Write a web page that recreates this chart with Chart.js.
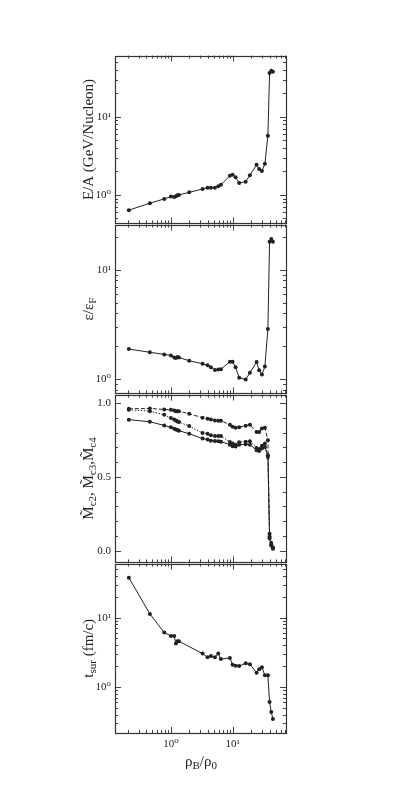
<!DOCTYPE html>
<html>
<head>
<meta charset="utf-8">
<title>E/A, e/eF, M~, t_sur vs rho_B/rho_0</title>
<script src="https://cdn.jsdelivr.net/npm/chart.js@4.4.1/dist/chart.umd.min.js"></script>
<style>
  html, body { margin: 0; padding: 0; background: #fff; }
  #wrap { position: relative; width: 415px; height: 789px; overflow: hidden; }
  .panel { position: absolute; left: 0; width: 415px; }
  canvas { display: block; }
</style>
</head>
<body>
<div id="wrap">
  <div class="panel" style="top:45px"><canvas id="c1" width="415" height="189"></canvas></div>
  <div class="panel" style="top:214px"><canvas id="c2" width="415" height="190"></canvas></div>
  <div class="panel" style="top:384px"><canvas id="c3" width="415" height="189"></canvas></div>
  <div class="panel" style="top:553px"><canvas id="c4" width="415" height="236"></canvas></div>
</div>
<script>
'use strict';

/* ----------------------------------------------------------
   DATA
   ---------------------------------------------------------- */

// rho_B / rho_0, shared by every panel
var density = [0.208, 0.456, 0.78, 1.0, 1.13, 1.205, 1.28, 1.35, 1.98, 3.26, 3.93, 4.45, 5.17, 5.86, 6.47,
  9.05, 10.0, 11.2, 12.8, 16.3, 19.1, 24.5, 27.0, 29.9, 33.4, 37.4, 39.8, 42.4, 45.1];

// E/A (GeV/Nucleon)
var energyPerNucleon = [0.638, 0.784, 0.889, 0.952, 0.943, 0.962, 0.99, 1.0, 1.08, 1.19, 1.24, 1.24, 1.24, 1.29, 1.35,
  1.76, 1.81, 1.69, 1.42, 1.48, 1.79, 2.43, 2.14, 2.02, 2.5, 5.74, 36.3, 39.0, 37.8];

// e / e_F
var energyRatio = [1.89, 1.77, 1.69, 1.65, 1.585, 1.57, 1.6, 1.585, 1.48, 1.39, 1.35, 1.29, 1.22, 1.23, 1.24,
  1.45, 1.45, 1.29, 1.035, 1.0, 1.15, 1.44, 1.21, 1.11, 1.31, 2.89, 18.0, 19.1, 18.0];

// M~c4 (dashed), M~c3 (dotted), M~c2 (solid)
var mc4 = [0.962, 0.964, 0.957, 0.955, 0.951, 0.946, 0.946, 0.946, 0.928, 0.901, 0.894, 0.89, 0.883, 0.881, 0.881,
  0.854, 0.84, 0.834, 0.836, 0.847, 0.854, 0.804, 0.804, 0.829, 0.834, 0.748, 0.115, 0.052, 0.018];
var mc3 = [0.955, 0.946, 0.921, 0.899, 0.89, 0.883, 0.876, 0.872, 0.845, 0.798, 0.793, 0.782, 0.778, 0.778, 0.778,
  0.737, 0.726, 0.719, 0.735, 0.739, 0.742, 0.697, 0.69, 0.712, 0.726, 0.647, 0.097, 0.04, 0.022];
var mc2 = [0.888, 0.874, 0.849, 0.836, 0.827, 0.822, 0.818, 0.813, 0.793, 0.76, 0.753, 0.746, 0.744, 0.742, 0.739,
  0.719, 0.708, 0.706, 0.719, 0.721, 0.719, 0.681, 0.676, 0.692, 0.703, 0.636, 0.085, 0.036, 0.013];

// t_sur (fm/c), no point at the 9th density
var survivalTime = [37.7, 11.3, 6.08, 5.44, 5.44, 4.22, 4.56, 4.56, null, 3.03, 2.68, 2.80, 2.68, 3.03, 2.53,
  2.62, 2.10, 2.03, 2.01, 2.19, 2.12, 1.61, 1.80, 1.92, 1.47, 1.47, 0.608, 0.436, 0.345];

// tick labels
var xTickValues = [1, 10];
var xTickLabels = ['10\u2070', '10\u00b9'];
var logTickValues = [1, 10];
var logTickLabels = ['10\u2070', '10\u00b9'];
var linTickValues = [0, 0.5, 1.0];
var linTickLabels = ['0.0', '0.5', '1.0'];

/* ----------------------------------------------------------
   HELPERS
   ---------------------------------------------------------- */

var INK = '#222';
var SERIF = '"Liberation Serif", "DejaVu Serif", serif';

Chart.defaults.font.family = SERIF;
Chart.defaults.font.size = 11;
Chart.defaults.color = INK;

function punkty(ys) {
  return density.map(function (x, i) { return { x: x, y: ys[i] }; });
}

function logTicks(min, max) {
  var out = [];
  for (var e = Math.floor(Math.log10(min)); e <= Math.ceil(Math.log10(max)); e++) {
    for (var m = 1; m <= 9; m++) {
      var v = m * Math.pow(10, e);
      if (v >= min && v <= max) out.push({ v: v, major: m === 1 });
    }
  }
  return out;
}

function linTicks(min, max) {
  var out = [];
  for (var k = Math.ceil(min * 10); k <= Math.floor(max * 10); k++) {
    out.push({ v: k / 10, major: k % 5 === 0 });
  }
  return out;
}

// rotated / horizontal text with subscripts
function rysujTekst(ctx, parts, x, y, rotate, size) {
  ctx.save();
  ctx.translate(x, y);
  if (rotate) ctx.rotate(-Math.PI / 2);
  ctx.textBaseline = 'middle';
  ctx.textAlign = 'left';
  ctx.fillStyle = INK;
  var total = 0;
  parts.forEach(function (p) {
    ctx.font = (p.sub ? Math.round(size * 0.7) : size) + 'px ' + SERIF;
    p.w = ctx.measureText(p.t).width;
    total += p.w;
  });
  var cx = -total / 2;
  parts.forEach(function (p) {
    ctx.font = (p.sub ? Math.round(size * 0.7) : size) + 'px ' + SERIF;
    ctx.fillText(p.t, cx, p.sub ? size * 0.3 : 0);
    cx += p.w;
  });
  ctx.restore();
}

var ramka = {
  id: 'ramka',
  afterDraw: function (chart, args, opts) {
    var a = chart.chartArea, ctx = chart.ctx;
    var xs = chart.scales.x, ys = chart.scales.y;
    ctx.save();
    ctx.strokeStyle = '#444';
    ctx.lineWidth = 1;
    ctx.beginPath();
    logTicks(xs.min, xs.max).forEach(function (t) {
      var px = Math.round(xs.getPixelForValue(t.v)) + 0.5, len = t.major ? 6 : 3;
      ctx.moveTo(px, a.top); ctx.lineTo(px, a.top + len);
      ctx.moveTo(px, a.bottom); ctx.lineTo(px, a.bottom - len);
    });
    var yt = ys.type === 'logarithmic' ? logTicks(ys.min, ys.max) : linTicks(ys.min, ys.max);
    yt.forEach(function (t) {
      var py = Math.round(ys.getPixelForValue(t.v)) + 0.5, len = t.major ? 6 : 3;
      ctx.moveTo(a.left, py); ctx.lineTo(a.left + len, py);
      ctx.moveTo(a.right, py); ctx.lineTo(a.right - len, py);
    });
    ctx.stroke();
    // frame snapped to the same half pixel, so shared edges overlap exactly
    var l = Math.round(a.left) + 0.5, r = Math.round(a.right) + 0.5;
    var t0 = Math.round(a.top) + 0.5, b0 = Math.round(a.bottom) + 0.5;
    ctx.lineWidth = 1.2;
    ctx.strokeStyle = '#333';
    ctx.strokeRect(l, t0, r - l, b0 - t0);
    ctx.restore();

    if (opts.title) rysujTekst(chart.ctx, opts.title, 89, (a.top + a.bottom) / 2, true, 15);
    if (opts.xTitle) rysujTekst(chart.ctx, opts.xTitle, 201, a.bottom + 29, false, 15);
  }
};

function seria(ys, dash) {
  return {
    data: punkty(ys),
    borderColor: INK,
    backgroundColor: INK,
    borderWidth: 1,
    borderDash: dash || [],
    pointRadius: 2,
    pointHoverRadius: 2,
    pointBorderWidth: 0,
    tension: 0,
    spanGaps: true
  };
}

function yLog(min, max) {
  return {
    type: 'logarithmic', min: min, max: max, bounds: 'data',
    grid: { display: false, drawTicks: false }, border: { display: false },
    ticks: { padding: 4, callback: function (v) { return logTickLabels[logTickValues.indexOf(v)]; } },
    afterBuildTicks: function (s) { s.ticks = logTickValues.map(function (v) { return { value: v }; }); },
    afterFit: function (s) { s.width = 115; }
  };
}

function yLin(min, max) {
  return {
    type: 'linear', min: min, max: max, bounds: 'data',
    grid: { display: false, drawTicks: false }, border: { display: false },
    ticks: { padding: 4, callback: function (v) { return linTickLabels[linTickValues.indexOf(v)]; } },
    afterBuildTicks: function (s) { s.ticks = linTickValues.map(function (v) { return { value: v }; }); },
    afterFit: function (s) { s.width = 115; }
  };
}

function xLog(show) {
  return {
    type: 'logarithmic', min: 0.124, max: 73.5, bounds: 'data', display: show,
    grid: { display: false, drawTicks: false }, border: { display: false },
    ticks: { padding: 5, maxRotation: 0, callback: function (v) { return xTickLabels[xTickValues.indexOf(v)]; } },
    afterBuildTicks: function (s) { s.ticks = xTickValues.map(function (v) { return { value: v }; }); },
    afterFit: function (s) { s.height = show ? 46 : 0; }
  };
}

function panel(id, datasets, yScale, opts, showX) {
  return new Chart(document.getElementById(id), {
    type: 'line',
    data: { datasets: datasets },
    options: {
      responsive: false,
      animation: false,
      layout: { padding: { left: 0, right: 129, top: 10, bottom: 10 } },
      scales: { x: xLog(showX), y: yScale },
      plugins: { legend: { display: false }, tooltip: { enabled: false }, ramka: opts }
    },
    plugins: [ramka]
  });
}

/* ----------------------------------------------------------
   PANELS
   ---------------------------------------------------------- */

panel('c1', [seria(energyPerNucleon)], yLog(0.432, 60.8),
  { title: [{ t: 'E/A (GeV/Nucleon)' }] }, false);

panel('c2', [seria(energyRatio)], yLog(0.746, 25.8),
  { title: [{ t: '\u03b5/\u03b5' }, { t: 'F', sub: true }] }, false);

panel('c3', [seria(mc4, [4, 2]), seria(mc3, [1.5, 1.5]), seria(mc2)], yLin(-0.079, 1.058),
  { title: [{ t: 'M\u0303' }, { t: 'c2', sub: true }, { t: ', M\u0303' }, { t: 'c3', sub: true },
    { t: ',M\u0303' }, { t: 'c4', sub: true }] }, false);

panel('c4', [seria(survivalTime)], yLog(0.217, 60.1),
  { title: [{ t: 't' }, { t: 'sur', sub: true }, { t: ' (fm/c)' }],
    xTitle: [{ t: '\u03c1' }, { t: 'B', sub: true }, { t: '/\u03c1' }, { t: '0', sub: true }] }, true);
</script>
</body>
</html>
